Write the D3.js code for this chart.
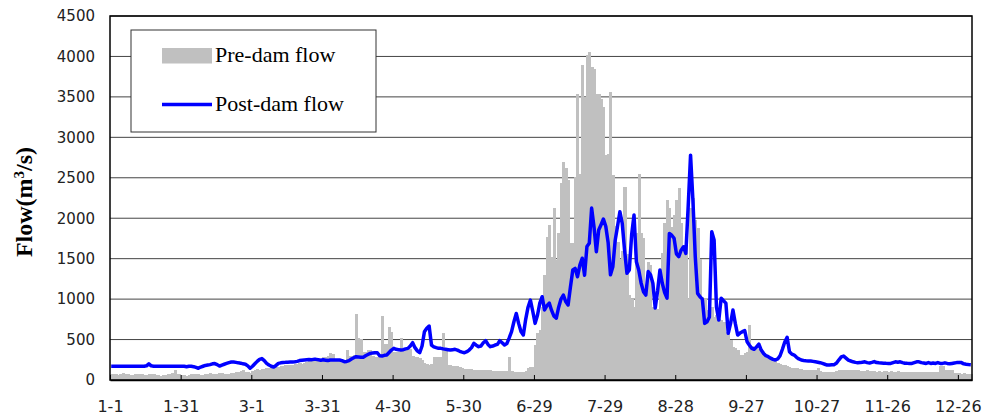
<!DOCTYPE html>
<html>
<head>
<meta charset="utf-8">
<script src="https://cdn.jsdelivr.net/npm/d3@7"></script>
<style>
  body { margin: 0; background: #fff; }
  svg { display: block; }
</style>
</head>
<body>
<div id="chart"></div>
<script>
// daily flow, one value per day of a leap year (366 days)
var preDam = [
  80,75,70,65,70,85,80,70,60,65,
  70,80,75,70,65,60,80,75,70,65,
  60,55,60,65,70,75,90,120,80,70,
  65,60,55,60,70,75,80,70,65,60,
  70,80,85,75,70,80,90,85,80,75,
  80,85,90,95,100,110,120,100,95,90,
  110,125,130,120,135,140,150,145,155,160,
  165,160,170,175,180,185,190,185,195,200,
  205,200,215,225,240,250,230,240,250,260,
  280,290,300,330,320,260,250,240,230,250,
  370,300,300,310,815,515,510,350,350,370,
  370,300,290,280,320,790,450,450,659,597,
  350,350,350,515,400,380,370,380,300,290,
  280,270,250,210,200,190,200,290,290,280,
  280,576,370,190,180,175,170,170,165,150,
  135,135,130,130,128,125,125,122,120,120,
  118,118,115,115,115,115,115,115,115,280,
  110,105,105,100,100,105,110,150,160,165,
  430,576,620,900,1300,1770,1915,1524,2125,1480,
  1815,2430,2695,2620,2470,1690,1690,2513,3540,2550,
  3890,3500,4012,4050,3870,3850,3540,3540,3480,3375,
  2780,2800,3560,2530,1900,1700,1500,1600,2390,1560,
  1050,1000,906,1815,2550,1815,1750,1110,1460,1420,
  906,880,880,1196,1565,1935,2225,2125,1895,2040,
  2225,2370,1935,1605,1730,1000,2125,2245,1975,1875,
  1500,1030,1000,865,988,900,782,805,760,741,
  720,597,580,494,411,400,370,309,310,330,
  350,680,420,400,390,380,360,330,310,290,
  270,250,230,210,200,190,180,175,165,150,
  145,145,140,130,125,125,120,125,120,120,
  145,110,105,105,100,100,105,100,110,120,
  125,125,120,125,120,125,120,120,115,115,
  115,120,115,110,110,105,110,105,110,110,
  105,110,105,105,110,100,105,100,100,95,
  100,95,100,95,100,95,95,100,95,95,
  100,95,175,170,125,120,125,120,90,85,
  85,80,85,80,80,80
];

var postDam = [
  170,170,170,170,170,170,170,170,170,170,
  170,170,170,170,170,175,200,175,170,170,
  170,170,170,170,170,170,170,170,170,170,
  170,170,165,170,170,165,155,145,160,170,
  180,185,190,200,203,190,172,185,195,205,
  215,222,222,218,212,208,200,195,175,145,
  170,200,230,255,265,240,205,185,170,160,
  180,205,212,215,218,220,222,222,225,230,
  240,245,248,250,252,250,255,255,250,245,
  250,245,240,247,247,247,247,247,240,227,
  230,240,260,275,288,285,282,280,300,315,
  329,333,337,337,300,296,305,309,340,370,
  391,380,375,370,375,385,391,420,461,400,
  360,337,420,597,640,667,432,410,400,391,
  391,385,380,375,370,375,379,370,355,345,
  337,350,370,400,453,430,412,420,460,486,
  440,412,420,432,440,486,460,432,450,520,
  597,720,823,700,600,556,750,900,988,850,
  700,800,950,1030,865,920,951,860,790,766,
  900,1000,1050,970,927,1150,1360,1380,1277,1420,
  1505,1296,1650,1690,2125,1895,1586,1854,1920,1990,
  1900,1700,1300,1400,1728,1900,2080,1935,1600,1320,
  1360,1800,2040,1462,1360,1200,1092,1050,1340,1300,
  1196,890,1100,1360,1196,1080,1012,1811,1790,1752,
  1560,1524,1605,1647,1565,2150,2780,2225,1524,1071,
  1030,1000,700,720,780,1833,1730,900,741,1012,
  980,950,577,700,865,700,556,580,597,610,
  473,430,391,379,410,444,370,329,300,288,
  270,255,247,260,300,380,470,527,350,320,
  308,280,260,247,242,238,236,235,230,225,
  220,214,205,195,185,185,188,190,210,250,
  285,296,270,245,235,225,218,214,215,220,
  225,215,210,218,228,215,212,210,208,206,
  205,205,215,225,220,225,215,208,206,205,
  205,215,225,225,215,210,205,215,205,210,
  205,215,205,205,212,205,200,205,210,215,
  218,215,200,195,192,190
];

// x tick labels, every 30 days
var tickLabels = ["1-1","1-31","3-1","3-31","4-30","5-30","6-29","7-29","8-28","9-27","10-27","11-26","12-26"];
var yTicks = [0,500,1000,1500,2000,2500,3000,3500,4000,4500];

// category labels (month-day) for the 366 days
var fmt = d3.timeFormat("%-m-%-d");
var days = d3.timeDays(new Date(2000, 0, 1), new Date(2001, 0, 1)).map(fmt);

var W = 990, H = 419;
var margin = {top: 16, right: 18, bottom: 39, left: 110},
    width = W - margin.left - margin.right,
    height = H - margin.top - margin.bottom;

var svg = d3.select("#chart")
  .append("svg")
    .attr("width", W)
    .attr("height", H)
  .append("g")
    .attr("transform", "translate(" + margin.left + "," + margin.top + ")");

var x = d3.scaleBand()
  .domain(days)
  .range([0, width])
  .padding(0);

var y = d3.scaleLinear()
  .domain([0, 4500])
  .range([height, 0]);

// gridlines
svg.append("g")
  .selectAll("line")
  .data(yTicks.slice(1))
  .enter()
  .append("line")
    .attr("x1", 0)
    .attr("x2", width)
    .attr("y1", function(d) { return y(d); })
    .attr("y2", function(d) { return y(d); })
    .attr("stroke", "#444")
    .attr("stroke-width", 1);

// pre-dam bars
svg.append("g")
  .attr("shape-rendering", "crispEdges")
  .selectAll("rect")
  .data(preDam)
  .enter()
  .append("rect")
    .attr("x", function(d, i) { return x(days[i]); })
    .attr("width", x.bandwidth() + 0.8)
    .attr("y", function(d) { return y(d); })
    .attr("height", function(d) { return height - y(d); })
    .attr("fill", "#c0c0c0");

// post-dam line
var line = d3.line()
  .x(function(d, i) { return x(days[i]) + x.bandwidth() / 2; })
  .y(function(d) { return y(d); });

svg.append("path")
  .datum(postDam)
  .attr("fill", "none")
  .attr("stroke", "#0000ff")
  .attr("stroke-width", 3.5)
  .attr("stroke-linejoin", "round")
  .attr("d", line);

// frame
svg.append("rect")
  .attr("x", 0)
  .attr("y", 0)
  .attr("width", width)
  .attr("height", height)
  .attr("fill", "none")
  .attr("stroke", "#000")
  .attr("stroke-width", 1.5);

// x axis: ticks at category boundaries, labels centred on them
var tickIdx = tickLabels.map(function(t) { return days.indexOf(t); });
var xTick = d3.scaleLinear().domain([0, days.length]).range([0, width]);
var xAxis = svg.append("g")
  .attr("transform", "translate(0," + height + ")")
  .call(d3.axisBottom(xTick)
    .tickValues(tickIdx)
    .tickSizeInner(-5)
    .tickSizeOuter(0)
    .tickPadding(21)
    .tickFormat(function(d, i) { return tickLabels[i]; }));
xAxis.select(".domain").attr("stroke", "#000").attr("stroke-width", 1.5);
xAxis.selectAll("text")
  .style("font-family", "DejaVu Sans")
  .style("font-size", "16px")
  .attr("fill", "#222");

// y axis
var yAxis = svg.append("g")
  .call(d3.axisLeft(y)
    .tickValues(yTicks)
    .tickSize(0)
    .tickPadding(15)
    .tickFormat(d3.format("d")));
yAxis.select(".domain").remove();
yAxis.selectAll("text")
  .style("font-family", "DejaVu Sans")
  .style("font-size", "15px")
  .attr("fill", "#222");

// y title
var yTitle = svg.append("text")
  .attr("text-anchor", "middle")
  .attr("transform", "translate(" + (32 - margin.left) + "," + (202 - margin.top) + ")rotate(-90)")
  .style("font-family", "Liberation Serif")
  .style("font-weight", "bold")
  .style("font-size", "24px")
  .attr("fill", "#000");
yTitle.append("tspan").text("Flow(m");
yTitle.append("tspan").attr("baseline-shift", "super").style("font-size", "15px").text("3");
yTitle.append("tspan").text("/s)");

// legend
var legend = svg.append("g")
  .attr("transform", "translate(" + (131 - margin.left) + "," + (30 - margin.top) + ")");
legend.append("rect")
  .attr("width", 245)
  .attr("height", 102)
  .attr("fill", "#fff")
  .attr("stroke", "#333")
  .attr("stroke-width", 1);
legend.append("rect")
  .attr("x", 31)
  .attr("y", 18)
  .attr("width", 50)
  .attr("height", 15.5)
  .attr("fill", "#c0c0c0");
legend.append("line")
  .attr("x1", 31)
  .attr("x2", 81)
  .attr("y1", 74.5)
  .attr("y2", 74.5)
  .attr("stroke", "#0000ff")
  .attr("stroke-width", 3.5);
legend.append("text")
  .attr("x", 84)
  .attr("y", 31.5)
  .style("font-family", "Liberation Serif")
  .style("font-size", "22px")
  .text("Pre-dam flow");
legend.append("text")
  .attr("x", 84)
  .attr("y", 81)
  .style("font-family", "Liberation Serif")
  .style("font-size", "22px")
  .text("Post-dam flow");
</script>
</body>
</html>
